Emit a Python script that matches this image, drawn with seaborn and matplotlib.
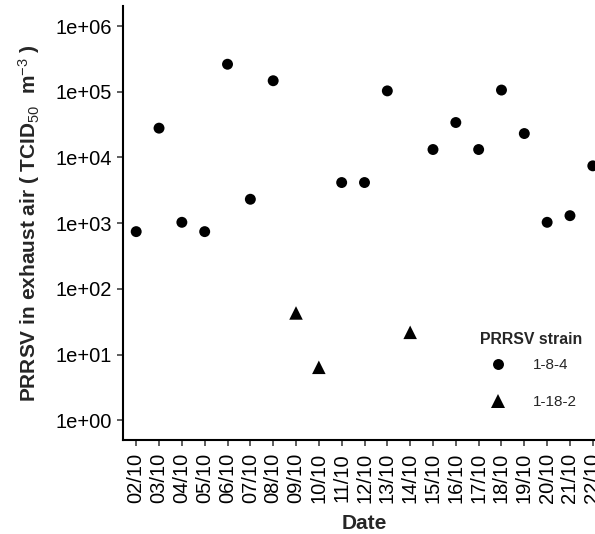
import matplotlib
matplotlib.use("Agg")
import matplotlib.pyplot as plt
import seaborn as sns
import pandas as pd
import numpy as np

# ---- data ----
dates = ["02/10", "03/10", "04/10", "05/10", "06/10", "07/10", "08/10", "09/10",
         "10/10", "11/10", "12/10", "13/10", "14/10", "15/10", "16/10", "17/10",
         "18/10", "19/10", "20/10", "21/10", "22/10"]

dates_184 = ["02/10", "03/10", "04/10", "05/10", "06/10", "07/10", "08/10",
             "11/10", "12/10", "13/10", "15/10", "16/10", "17/10", "18/10",
             "19/10", "20/10", "21/10", "22/10"]
values_184 = [743, 27900, 1030, 743, 262000, 2310, 147000,
              4150, 4150, 103000, 13200, 34000, 13200, 106000,
              23100, 1030, 1300, 7450]

dates_1182 = ["09/10", "10/10", "14/10"]
values_1182 = [43, 6.4, 21.8]

strains = ["1-8-4", "1-18-2"]
y_ticks = [1e0, 1e1, 1e2, 1e3, 1e4, 1e5, 1e6]
y_tick_labels = ["1e+00", "1e+01", "1e+02", "1e+03", "1e+04", "1e+05", "1e+06"]

df = pd.DataFrame({
    "Date": dates_184 + dates_1182,
    "value": values_184 + values_1182,
    "strain": ["1-8-4"] * len(dates_184) + ["1-18-2"] * len(dates_1182),
})
df["Date"] = pd.Categorical(df["Date"], categories=dates, ordered=True)
df = df.sort_values("Date").reset_index(drop=True)

# ---- style ----
sns.set_style("white")
plt.rcParams["font.family"] = ["Liberation Sans", "DejaVu Sans"]
plt.rcParams["mathtext.fontset"] = "custom"
plt.rcParams["mathtext.rm"] = "Liberation Sans"
plt.rcParams["mathtext.it"] = "Liberation Sans"
plt.rcParams["mathtext.bf"] = "Liberation Sans:bold"

W, H = 595, 534
fig = plt.figure(figsize=(W / 100, H / 100), dpi=100)
left_px, right_px, top_px, bottom_px = 122.5, 606.5, 6.3, 440
ax = fig.add_axes([left_px / W, 1 - bottom_px / H,
                   (right_px - left_px) / W, (bottom_px - top_px) / H])

sns.scatterplot(data=df, x="Date", y="value", hue="strain", style="strain",
                size="strain", hue_order=strains, style_order=strains,
                size_order=strains,
                palette={"1-8-4": "black", "1-18-2": "black"},
                markers={"1-8-4": "o", "1-18-2": "^"},
                sizes={"1-8-4": 62, "1-18-2": 95},
                linewidth=0, edgecolor="none", ax=ax, legend=True)

ax.set_yscale("log")
ax.set_ylim(10 ** -0.3, 10 ** 6.3)
ax.set_yticks(y_ticks)
ax.set_yticklabels(y_tick_labels)
ax.minorticks_off()
ax.set_xlim(-0.6, len(dates) - 1 + 0.6)
ax.set_xticks(range(len(dates)))
ax.set_xticklabels(dates, rotation=90, va="top", ha="center")

for s in ["top", "right"]:
    ax.spines[s].set_visible(False)
for s in ["left", "bottom"]:
    ax.spines[s].set_color("black")
    ax.spines[s].set_linewidth(1.5)
ax.tick_params(axis="both", which="major", length=4.3, width=1.1, color="#333333",
               labelsize=14.5, labelcolor="black", direction="out", left=True, bottom=True)
ax.tick_params(axis="x", pad=5)
ax.tick_params(axis="y", pad=3)

ax.set_xlabel("Date", fontsize=15, fontweight="bold", labelpad=8)
ax.set_ylabel(r"PRRSV in exhaust air ( TCID$_{50}$  m$^{-3}$ )",
              fontsize=15, fontweight="bold", labelpad=10)

# legend
handles, labels = ax.get_legend_handles_labels()
keep = [(h, l) for h, l in zip(handles, labels) if l in strains]
leg = ax.legend([h for h, _ in keep], [l for _, l in keep],
                loc="upper left", bbox_to_anchor=(480 / W, 1 - 358 / H),
                bbox_transform=fig.transFigure, frameon=False,
                fontsize=11, borderpad=0, borderaxespad=0,
                handlelength=2.35, handletextpad=1.1, labelspacing=1.5)
fig.text(480 / W, 1 - 340 / H, "PRRSV strain", fontsize=11.4,
         fontweight="bold", ha="left", va="center")

fig.savefig("out.png", dpi=100)
